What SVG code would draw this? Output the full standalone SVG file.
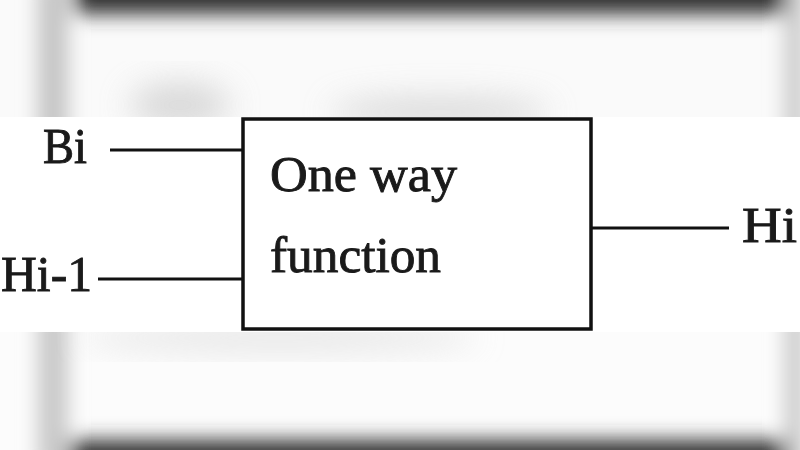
<svg xmlns="http://www.w3.org/2000/svg" width="800" height="450" viewBox="0 0 800 450">
<defs>
<style>
.lbl{font-family:"Liberation Serif","DejaVu Serif",serif;font-size:50px;fill:#1a1a1a;stroke:#1a1a1a;stroke-width:0.9}
.wire{stroke:#111;stroke-width:3;fill:none}
.box{stroke:#111;stroke-width:3.5;fill:#fff}
</style>
<filter id="blur" x="-50%" y="-50%" width="200%" height="200%"><feGaussianBlur stdDeviation="10"/></filter>
<filter id="blur2" x="-50%" y="-50%" width="200%" height="200%"><feGaussianBlur stdDeviation="16"/></filter>
<clipPath id="top"><rect x="0" y="0" width="800" height="117"/></clipPath>
<clipPath id="bot"><rect x="0" y="332" width="800" height="118"/></clipPath>
</defs>
<rect x="0" y="0" width="800" height="450" fill="#fff"/>
<g id="background">
<g clip-path="url(#top)">
<rect x="0" y="0" width="800" height="117" fill="#fafafa"/>
<g filter="url(#blur)">
<rect x="75" y="-40" width="712" height="54" fill="#333"/>
<rect x="38" y="-20" width="30" height="160" fill="#c4c4c4"/>
<rect x="785" y="-20" width="20" height="160" fill="#c8c8c8"/>
</g>
<g filter="url(#blur2)" fill="#cfcfcf" opacity="0.8">
<ellipse cx="180" cy="105" rx="50" ry="22"/>
<ellipse cx="440" cy="112" rx="110" ry="14"/>
</g>
</g>
<g clip-path="url(#bot)">
<rect x="0" y="332" width="800" height="118" fill="#fcfcfc"/>
<g filter="url(#blur)">
<rect x="70" y="440" width="715" height="54" fill="#333"/>
<rect x="38" y="310" width="30" height="160" fill="#c8c8c8"/>
<rect x="785" y="310" width="20" height="160" fill="#c8c8c8"/>
</g>
<g filter="url(#blur2)" fill="#d8d8d8" opacity="0.7">
<ellipse cx="280" cy="338" rx="200" ry="12"/>
</g>
</g>
</g>
<g id="connectors">
<line class="wire" x1="110" y1="150" x2="243" y2="150"/>
<line class="wire" x1="98" y1="279" x2="243" y2="279"/>
<line class="wire" x1="591" y1="228" x2="729" y2="228"/>
</g>
<g id="node-function">
<rect class="box" x="243" y="119" width="348" height="210"/>
<text class="lbl" x="270" y="191" textLength="187" lengthAdjust="spacingAndGlyphs">One way</text>
<text class="lbl" x="270" y="272" textLength="171" lengthAdjust="spacingAndGlyphs">function</text>
</g>
<g id="label-Bi"><text class="lbl" x="43" y="163" textLength="44" lengthAdjust="spacingAndGlyphs">Bi</text></g>
<g id="label-Hi-1"><text class="lbl" x="1" y="291" textLength="91" lengthAdjust="spacingAndGlyphs">Hi-1</text></g>
<g id="label-Hi"><text class="lbl" x="742" y="242" textLength="55" lengthAdjust="spacingAndGlyphs">Hi</text></g>
</svg>
